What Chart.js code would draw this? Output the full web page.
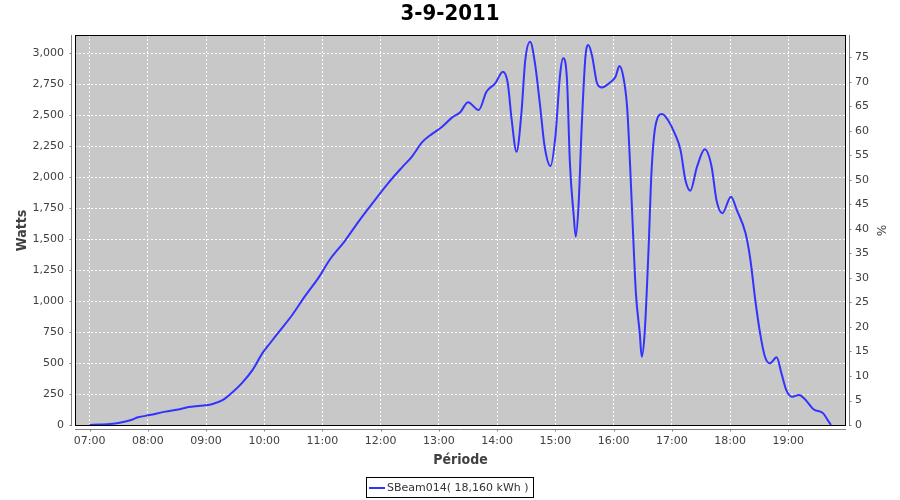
<!DOCTYPE html>
<html>
<head>
<meta charset="utf-8">
<script src="https://cdn.jsdelivr.net/npm/chart.js@4.4.1/dist/chart.umd.min.js"></script>
<style>
  html, body { margin: 0; padding: 0; background: #fff; }
  #wrap { position: relative; width: 900px; height: 500px; }
  #legend { position: absolute; left: 366px; top: 477px; width: 166px; height: 19px;
    border: 1px solid #000; font: 11px "DejaVu Sans", sans-serif; color: #333; box-sizing: content-box; }
  #legend .ln { position: absolute; left: 2px; top: 9px; width: 16px; height: 2px; background: #3333ff; }
  #legend .tx { position: absolute; left: 20px; top: 3px; white-space: nowrap; }
</style>
</head>
<body>
<div id="wrap">
  <canvas id="c" width="900" height="500"></canvas>
  <div id="legend"><span class="ln"></span><span class="tx">SBeam014( 18,160 kWh )</span></div>
</div>
<script>
// ---- data ----
const chartTitle = '3-9-2011';
const seriesName = 'SBeam014( 18,160 kWh )';
// minutes since midnight
const timeMin = [420,431,441,451,462,470,482,498,513,522,534,546,557,567,577,588,598,606,616,629,642,656,668,683,697,711,728,742,752,763,773,783,794,802,810,
  821,829,838,846,851,855,860,865,869,874,879,884,889,895,900,905,908,912,915,919,921,924,927,931,934,938,943,948,956,962,966,970,974,977,980,983,987,989,992,996,999,1003,1010,1016,1023,1029,1034,1039,1046,1054,1061,1066,1072,1081,1087,1096,1101,1106,1111,1116,1121,1128,1133,1138,1144,1151,1157,1166,1176,1181,1184];
const watts = [0,4,8,18,38,62,80,108,128,145,155,168,200,262,338,445,578,660,760,890,1040,1190,1340,1485,1640,1785,1955,2080,2165,2285,2350,2405,2485,2525,2605,
  2542,2690,2758,2852,2758,2462,2206,2516,2946,3094,2919,2596,2246,2090,2327,2838,2960,2785,2114,1681,1520,1789,2381,2973,3067,2973,2758,2725,2763,2811,2897,2811,2560,2100,1560,1063,740,551,740,1412,2031,2408,2510,2462,2354,2219,1977,1891,2085,2225,2085,1816,1709,1843,1735,1547,1332,1009,740,551,498,546,417,282,228,242,210,127,94,35,0];
const xTickLabels = ['07:00','08:00','09:00','10:00','11:00','12:00','13:00','14:00','15:00','16:00','17:00','18:00','19:00'];
const wattTicks = [0,250,500,750,1000,1250,1500,1750,2000,2250,2500,2750,3000];
const pctTicks = [0,5,10,15,20,25,30,35,40,45,50,55,60,65,70,75];

const toMin = s => { const [h, m] = s.split(':').map(Number); return h * 60 + m; };
const fmtTime = v => { const h = Math.floor(v / 60), m = Math.round(v % 60); return String(h).padStart(2,'0') + ':' + String(m).padStart(2,'0'); };

const tickFont = { family: 'DejaVu Sans', size: 11 };
const axisTitleFont = { family: 'DejaVu Sans Condensed, DejaVu Sans', size: 14, weight: 'bold' };
const dash = [2, 2];

const framePlugin = {
  id: 'frame',
  beforeDraw(chart) {
    const { ctx, chartArea: a } = chart;
    ctx.save();
    ctx.fillStyle = '#c8c8c8';
    ctx.fillRect(a.left, a.top, a.right - a.left, a.bottom - a.top);
    ctx.restore();
  },
  afterDatasetsDraw(chart) {
    const { ctx, chartArea: a, scales } = chart;
    ctx.save();
    ctx.strokeStyle = '#000';
    ctx.lineWidth = 1;
    ctx.strokeRect(a.left + 0.5, a.top + 0.5, a.right - a.left - 1, a.bottom - a.top - 1);
    ctx.strokeStyle = '#808080';
    ctx.beginPath();
    // left axis
    const lx = a.left - 3.5;
    ctx.moveTo(lx, a.top); ctx.lineTo(lx, a.bottom);
    scales.y.ticks.forEach(t => { const p = Math.round(scales.y.getPixelForValue(t.value)) + 0.5; ctx.moveTo(lx - 2, p); ctx.lineTo(lx, p); });
    // right axis
    const rx = a.right + 3.5;
    ctx.moveTo(rx, a.top); ctx.lineTo(rx, a.bottom);
    scales.y2.ticks.forEach(t => { const p = Math.round(scales.y2.getPixelForValue(t.value)) + 0.5; ctx.moveTo(rx, p); ctx.lineTo(rx + 2, p); });
    // bottom axis
    const by = a.bottom + 3.5;
    ctx.moveTo(a.left, by); ctx.lineTo(a.right, by);
    scales.x.ticks.forEach(t => { const p = Math.round(scales.x.getPixelForValue(t.value)) + 0.5; ctx.moveTo(p, by); ctx.lineTo(p, by + 2); });
    ctx.stroke();
    ctx.restore();
  }
};

new Chart(document.getElementById('c'), {
  type: 'line',
  data: {
    datasets: [{
      label: seriesName,
      data: timeMin.map((t, i) => ({ x: t, y: watts[i] })),
      borderColor: '#3333ff',
      borderWidth: 2,
      pointRadius: 0,
      cubicInterpolationMode: 'monotone',
      fill: false,
      yAxisID: 'y'
    }]
  },
  options: {
    responsive: false,
    animation: false,
    devicePixelRatio: 1,
    layout: { padding: 0 },
    plugins: {
      legend: { display: false },
      tooltip: { enabled: false },
      title: {
        display: true, text: chartTitle, color: '#000',
        font: { family: 'DejaVu Sans Condensed, DejaVu Sans', size: 22, weight: 'bold' },
        padding: { top: 1, bottom: 7.6 }
      }
    },
    scales: {
      x: {
        type: 'linear', position: 'bottom',
        min: 405, max: 1199.5,
        afterFit: s => { s.height = 74; },
        afterBuildTicks: s => { s.ticks = xTickLabels.map(l => ({ value: toMin(l) })); },
        ticks: { callback: v => fmtTime(v), color: '#404040', font: tickFont, padding: 9, maxRotation: 0, autoSkip: false },
        grid: { color: '#ffffff', drawTicks: false, lineWidth: 1 },
        border: { display: false, dash: dash },
        title: { display: true, text: 'Période', color: '#404040', font: axisTitleFont, padding: { top: 0, bottom: 31.6 } }
      },
      y: {
        type: 'linear', position: 'left',
        min: -8, max: 3148,
        afterFit: s => { s.width = 75; },
        afterBuildTicks: s => { s.ticks = wattTicks.map(v => ({ value: v })); },
        ticks: { callback: v => v.toLocaleString('en-US'), color: '#404040', font: tickFont, padding: 11 },
        grid: { color: '#ffffff', drawTicks: false, lineWidth: 1 },
        border: { display: false, dash: dash },
        title: { display: true, text: 'Watts', color: '#404040', font: axisTitleFont, padding: { top: 13.6, bottom: 0 } }
      },
      y2: {
        type: 'linear', position: 'right',
        min: -0.2, max: 79.55,
        afterFit: s => { s.width = 54; },
        afterBuildTicks: s => { s.ticks = pctTicks.map(v => ({ value: v })); },
        ticks: { callback: v => String(v), color: '#404040', font: tickFont, padding: 9 },
        grid: { drawOnChartArea: false, drawTicks: false },
        border: { display: false },
        title: { display: true, text: '%', color: '#404040', font: { family: 'DejaVu Sans', size: 12 }, padding: { top: 12.8, bottom: 0 } }
      }
    }
  },
  plugins: [framePlugin]
});
</script>
</body>
</html>
